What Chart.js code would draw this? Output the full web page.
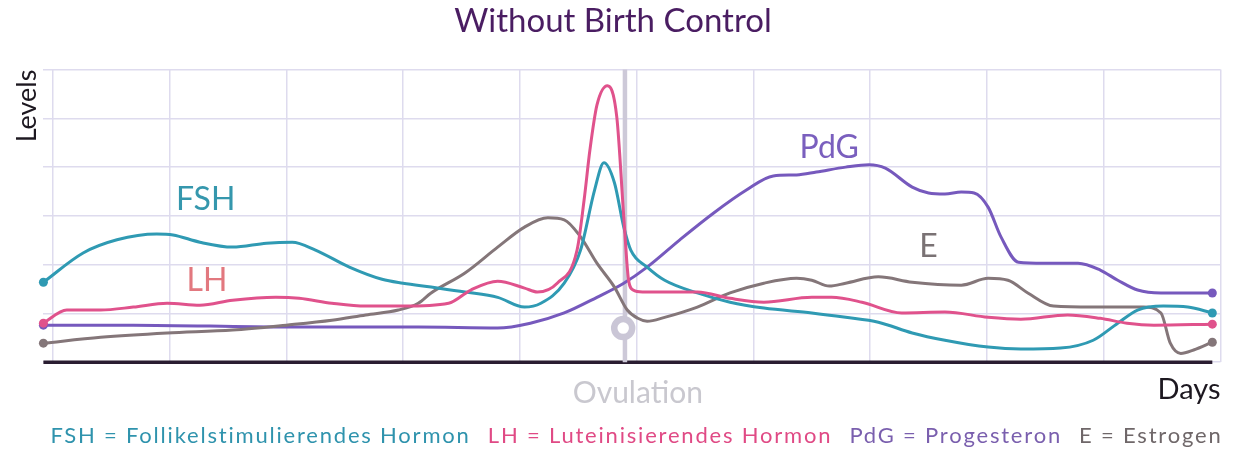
<!DOCTYPE html>
<html>
<head>
<meta charset="utf-8">
<script src="https://cdn.jsdelivr.net/npm/chart.js@4.4.1/dist/chart.umd.min.js"></script>
<style>
  html, body { margin: 0; padding: 0; background: #fff; overflow: hidden; }
  #wrap { width: 1236px; height: 456px; }
</style>
</head>
<body>
<div id="wrap"><canvas id="cycle"></canvas></div>
<script>
// grid positions (one cell per column / level)
const xTicks = [0, 1, 2, 3, 4, 5, 6, 7, 8, 9, 10];
const yTicks = [0, 1, 2, 3, 4, 5, 6];

const seriesNames = ['FSH', 'LH', 'PdG', 'E'];
const legendTexts = [
    'FSH = Follikelstimulierendes Hormon',
    'LH = Luteinisierendes Hormon',
    'PdG = Progesteron',
    'E = Estrogen'
];

const fshX = [-0.08, 0.26, 0.55, 0.89, 1.03, 1.26, 1.54, 1.83, 2.05, 2.25, 2.54, 2.82, 3.0, 3.24, 3.53, 3.81, 4.04, 4.18, 4.38, 4.52, 4.64, 4.72, 4.81, 4.89, 4.95, 5.09, 5.24, 5.52, 5.80, 6.09, 6.50, 6.79, 7.07, 7.36, 7.64, 8.01, 8.29, 8.63, 8.91, 9.12, 9.29, 9.51, 9.72, 9.93];
const fshY = [1.64, 2.24, 2.51, 2.63, 2.61, 2.46, 2.36, 2.44, 2.46, 2.30, 1.95, 1.70, 1.62, 1.54, 1.44, 1.33, 1.13, 1.21, 1.62, 2.30, 3.53, 4.09, 3.68, 2.77, 2.30, 1.95, 1.68, 1.42, 1.23, 1.11, 1.01, 0.92, 0.82, 0.60, 0.45, 0.31, 0.27, 0.29, 0.45, 0.80, 1.07, 1.15, 1.13, 1.01];

const lhX = [-0.08, 0.12, 0.41, 0.69, 0.98, 1.26, 1.54, 1.91, 2.11, 2.39, 2.68, 3.0, 3.39, 3.58, 3.81, 4.04, 4.15, 4.32, 4.49, 4.55, 4.60, 4.66, 4.75, 4.83, 4.89, 4.93, 4.97, 5.05, 5.24, 5.52, 5.80, 6.09, 6.50, 6.67, 6.93, 7.27, 7.64, 8.01, 8.29, 8.69, 8.97, 9.20, 9.43, 9.93];
const lhY = [0.80, 1.07, 1.07, 1.13, 1.21, 1.17, 1.27, 1.33, 1.31, 1.21, 1.15, 1.15, 1.21, 1.48, 1.66, 1.52, 1.44, 1.62, 2.30, 3.32, 4.35, 5.27, 5.67, 5.03, 2.98, 1.70, 1.48, 1.44, 1.44, 1.44, 1.31, 1.23, 1.33, 1.33, 1.23, 1.01, 1.03, 0.92, 0.88, 0.97, 0.90, 0.80, 0.76, 0.78];

const pdgX = [-0.08, 0.69, 2.0, 3.13, 3.81, 4.09, 4.38, 4.66, 4.89, 5.09, 5.37, 5.66, 5.94, 6.17, 6.37, 6.54, 6.79, 6.99, 7.13, 7.36, 7.50, 7.64, 7.78, 7.89, 8.01, 8.12, 8.27, 8.49, 8.78, 8.97, 9.12, 9.29, 9.49, 9.93];
const pdgY = [0.76, 0.76, 0.72, 0.72, 0.70, 0.80, 1.01, 1.33, 1.62, 1.95, 2.51, 3.06, 3.53, 3.82, 3.84, 3.90, 4.00, 4.05, 3.98, 3.59, 3.47, 3.45, 3.49, 3.47, 3.18, 2.57, 2.05, 2.03, 2.03, 1.89, 1.68, 1.48, 1.42, 1.42];

const eX = [-0.08, 0.41, 0.98, 1.54, 2.0, 2.39, 2.68, 2.96, 3.13, 3.24, 3.53, 3.81, 4.04, 4.24, 4.38, 4.52, 4.66, 4.81, 4.92, 5.01, 5.09, 5.24, 5.52, 5.80, 6.09, 6.37, 6.50, 6.65, 6.79, 7.07, 7.36, 7.78, 8.01, 8.18, 8.35, 8.57, 8.91, 9.34, 9.49, 9.57, 9.66, 9.77, 9.93];
const eY = [0.39, 0.51, 0.60, 0.66, 0.76, 0.86, 0.97, 1.07, 1.21, 1.42, 1.83, 2.36, 2.77, 2.96, 2.92, 2.57, 2.03, 1.54, 1.07, 0.90, 0.84, 0.92, 1.13, 1.42, 1.62, 1.72, 1.68, 1.56, 1.62, 1.75, 1.64, 1.58, 1.72, 1.68, 1.42, 1.15, 1.13, 1.13, 1.01, 0.39, 0.18, 0.25, 0.41];

const ovulationDay = 4.90;
const ovulationMark = 0.70;
const dayRange = [-0.08, 9.93];

const FONT = 'Lato, "Noto Sans", sans-serif';
const colors = { FSH: '#2f9ab3', LH: '#e0528c', PdG: '#7659bd', E: '#847679' };
const labelColors = { FSH: '#3597ad', LH: '#e2787f', PdG: '#7a5fbe', E: '#7a7274' };
const legendColors = ['#2f93ad', '#e04a85', '#7a5fae', '#6f6769'];

const pts = (xs, ys) => xs.map((x, i) => ({ x, y: ys[i] }));

function hormone(name, xs, ys) {
    const last = xs.length - 1;
    return {
        label: name,
        data: pts(xs, ys),
        borderColor: colors[name],
        backgroundColor: colors[name],
        borderWidth: 3,
        cubicInterpolationMode: 'monotone',
        pointRadius: ctx => (ctx.dataIndex === 0 || ctx.dataIndex === last) ? 4.5 : 0,
        pointBorderWidth: 0,
        clip: false
    };
}

// text placed in data space
const annotations = [
    { text: 'FSH', x: 1.31, y: 3.33, color: labelColors.FSH, size: 32 },
    { text: 'LH', x: 1.32, y: 1.68, color: labelColors.LH, size: 32 },
    { text: 'PdG', x: 6.65, y: 4.39, color: labelColors.PdG, size: 32 },
    { text: 'E', x: 7.50, y: 2.36, color: labelColors.E, size: 32 },
    { text: 'Ovulation', x: 5.01, y: -0.63, color: '#c9c8cf', size: 30 }
];

const textLabels = {
    id: 'textLabels',
    afterDatasetsDraw(chart) {
        const { ctx, scales: { x, y } } = chart;
        ctx.save();
        ctx.textAlign = 'center';
        ctx.textBaseline = 'middle';
        annotations.forEach(a => {
            ctx.font = `${a.size}px ${FONT}`;
            ctx.fillStyle = a.color;
            ctx.fillText(a.text, x.getPixelForValue(a.x), y.getPixelForValue(a.y));
        });
        ctx.restore();
    }
};

// one justified row of coloured explanations under the axis
const legendRow = {
    id: 'legendRow',
    afterDraw(chart, args, opts) {
        const { ctx, chartArea } = chart;
        ctx.save();
        ctx.font = `${opts.size}px ${FONT}`;
        ctx.letterSpacing = opts.spacing + 'px';
        ctx.textAlign = 'left';
        ctx.textBaseline = 'middle';
        const widths = legendTexts.map(t => ctx.measureText(t).width);
        const left = chartArea.left + opts.inset[0];
        const right = chartArea.right - opts.inset[1];
        const gap = (right - left - widths.reduce((a, b) => a + b, 0)) / (legendTexts.length - 1);
        let cx = left;
        legendTexts.forEach((t, i) => {
            ctx.fillStyle = legendColors[i];
            ctx.fillText(t, cx, opts.y);
            cx += widths[i] + gap;
        });
        ctx.restore();
    }
};

new Chart(document.getElementById('cycle'), {
    type: 'line',
    plugins: [textLabels, legendRow],
    data: {
        datasets: [
            {
                label: 'marker',
                data: [{ x: ovulationDay - 0.015, y: ovulationMark }],
                showLine: false,
                pointRadius: 9,
                pointBorderWidth: 6.5,
                pointBackgroundColor: '#ffffff',
                pointBorderColor: '#cac6d6',
                clip: false
            },
            hormone('LH', lhX, lhY),
            hormone('FSH', fshX, fshY),
            hormone('E', eX, eY),
            hormone('PdG', pdgX, pdgY),
            {
                label: 'ovulation',
                data: [{ x: ovulationDay, y: 0 }, { x: ovulationDay, y: 6 }],
                borderColor: '#cdc9d8',
                borderWidth: 4.5,
                pointRadius: 0,
                clip: false
            },
            {
                label: 'baseline',
                data: [{ x: dayRange[0], y: 0 }, { x: dayRange[1], y: 0 }],
                borderColor: '#2a1d31',
                borderWidth: 3.5,
                pointRadius: 0,
                clip: false
            }
        ]
    },
    options: {
        responsive: true,
        maintainAspectRatio: false,
        animation: false,
        events: [],
        layout: { padding: { left: 0, right: 10, top: 0, bottom: 49 } },
        scales: {
            x: {
                type: 'linear',
                min: -0.08,
                max: 10,
                afterBuildTicks: axis => { axis.ticks = xTicks.map(v => ({ value: v })); },
                ticks: { display: false },
                grid: { color: '#dedbee', lineWidth: 1.5, drawTicks: false },
                border: { display: false },
                title: {
                    display: true,
                    text: 'Days',
                    align: 'end',
                    color: '#1d1820',
                    font: { family: FONT, size: 29 },
                    padding: { top: 10, bottom: 0 }
                }
            },
            y: {
                min: 0,
                max: 6,
                afterBuildTicks: axis => { axis.ticks = yTicks.map(v => ({ value: v })); },
                ticks: { display: false },
                grid: { color: '#dedbee', lineWidth: 1.5, drawTicks: false },
                border: { display: false },
                title: {
                    display: true,
                    text: 'Levels',
                    align: 'end',
                    color: '#1d1820',
                    font: { family: FONT, size: 27 },
                    padding: { top: 11, bottom: 0 }
                }
            }
        },
        plugins: {
            title: {
                display: true,
                text: 'Without Birth Control',
                color: '#4a1d62',
                font: { family: FONT, size: 33, weight: 'normal' },
                padding: { top: 2, bottom: 28 }
            },
            legend: { display: false },
            legendRow: { size: 22, spacing: 1.8, inset: [7, -2], y: 436 },
            tooltip: { enabled: false }
        }
    }
});
</script>
</body>
</html>
